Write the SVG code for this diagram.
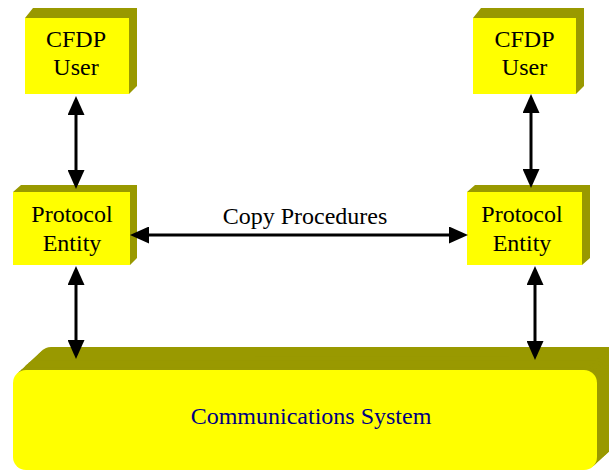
<svg xmlns="http://www.w3.org/2000/svg" width="609" height="472" viewBox="0 0 609 472">
<style>
.front{fill:#ffff00}
.side{fill:#999900}
.t{font-family:"Liberation Serif","Times New Roman",serif;font-size:24px;fill:#000;text-anchor:middle}
.ct{font-family:"Liberation Serif","Times New Roman",serif;font-size:24px;fill:#000080;text-anchor:middle}
.conn line{stroke:#000;stroke-width:3;marker-start:url(#ah);marker-end:url(#ah)}
</style>
<defs>
<marker id="ah" markerUnits="userSpaceOnUse" markerWidth="19" markerHeight="17" refX="8" refY="8.5" orient="auto-start-reverse" viewBox="0 0 19 17">
<path d="M0,0 L19,8.5 L0,17 z" fill="#000"/>
</marker>
<rect id="comm" x="13" y="370" width="584" height="100" rx="13" ry="13"/>
</defs>
<rect width="609" height="472" fill="#fff"/>
<g id="user-left">
<polygon class="side" points="25,18 33,8 137,8 137,86 129,94 129,18"/>
<rect class="front" x="25" y="18" width="104" height="76"/>
<text class="t" x="76" y="47">CFDP</text>
<text class="t" x="76" y="75">User</text>
</g>
<g id="user-right">
<polygon class="side" points="473,18 481,8 584,8 584,86 576,94 576,18"/>
<rect class="front" x="473" y="18" width="103" height="76"/>
<text class="t" x="524.5" y="47">CFDP</text>
<text class="t" x="524.5" y="75">User</text>
</g>
<g id="entity-left">
<polygon class="side" points="13,192 21,185 137,185 137,258 130,265 130,192"/>
<rect class="front" x="13" y="192" width="117" height="73"/>
<text class="t" x="72" y="222">Protocol</text>
<text class="t" x="72" y="251">Entity</text>
</g>
<g id="entity-right">
<polygon class="side" points="467,192 475,185 590,185 590,258 582,265 582,192"/>
<rect class="front" x="467" y="192" width="115" height="73"/>
<text class="t" x="522" y="222">Protocol</text>
<text class="t" x="522" y="251">Entity</text>
</g>
<g id="comms">
<g class="side">
<use href="#comm" transform="translate(25,-23)"/>
<use href="#comm" transform="translate(22.5,-20.7)"/>
<use href="#comm" transform="translate(20,-18.4)"/>
<use href="#comm" transform="translate(17.5,-16.1)"/>
<use href="#comm" transform="translate(15,-13.8)"/>
<use href="#comm" transform="translate(12.5,-11.5)"/>
<use href="#comm" transform="translate(10,-9.2)"/>
<use href="#comm" transform="translate(7.5,-6.9)"/>
<use href="#comm" transform="translate(5,-4.6)"/>
<use href="#comm" transform="translate(2.5,-2.3)"/>
</g>
<use href="#comm" class="front"/>
<text class="ct" x="311" y="424">Communications System</text>
</g>
<g id="connectors" class="conn">
<line x1="76" y1="107" x2="76" y2="178"/>
<line x1="76" y1="277" x2="76" y2="348"/>
<line x1="531" y1="105" x2="531" y2="177"/>
<line x1="535" y1="277" x2="535" y2="349"/>
<line x1="141" y1="235" x2="457" y2="235"/>
<text class="t" x="305" y="224">Copy Procedures</text>
</g>
</svg>
